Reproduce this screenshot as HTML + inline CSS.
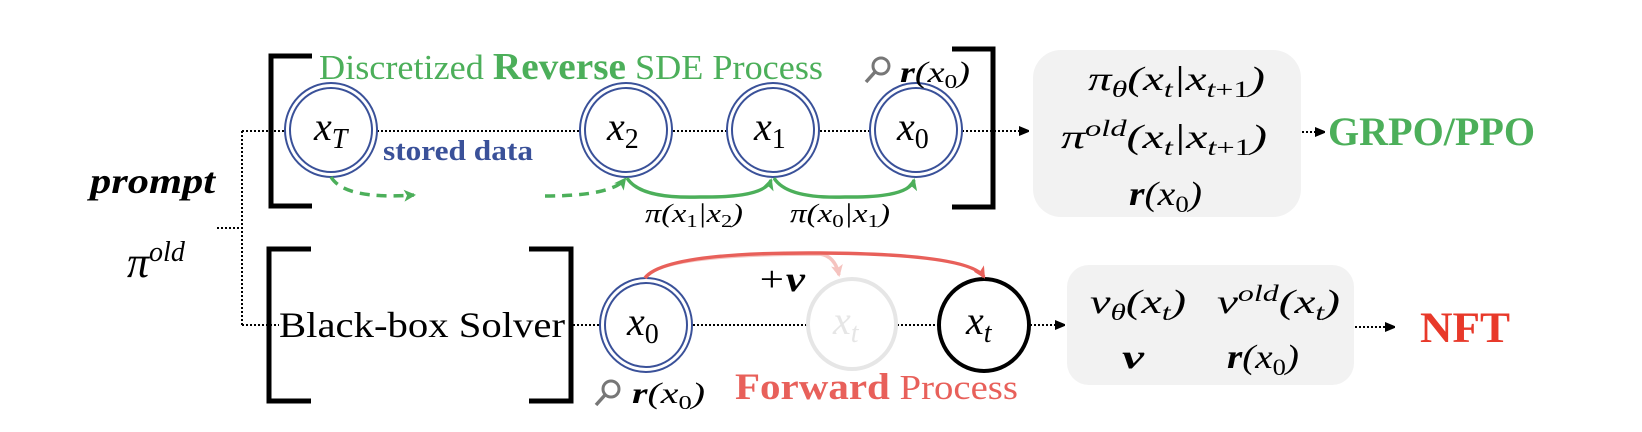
<!DOCTYPE html>
<html><head><meta charset="utf-8"><style>
html,body{margin:0;padding:0;background:#fff;width:1642px;height:432px;overflow:hidden}
svg{display:block}
svg text{font-family:"Liberation Serif","DejaVu Serif",serif}
.m{font-style:italic}
</style></head><body>
<svg width="1642" height="432" viewBox="0 0 1642 432" xmlns="http://www.w3.org/2000/svg" font-family="Liberation Serif, serif">
<defs>
<marker id="ab" markerWidth="10" markerHeight="10" refX="9" refY="5" orient="auto" markerUnits="userSpaceOnUse"><path d="M0,0 L12,5 L0,10 z" fill="#000"/></marker>
<marker id="ag" markerWidth="12" markerHeight="12" refX="10" refY="6" orient="auto" markerUnits="userSpaceOnUse"><path d="M0,0 L12,6 L0,12 L3,6 z" fill="#4caf5a"/></marker>
<marker id="ar" markerWidth="12" markerHeight="12" refX="10" refY="6" orient="auto" markerUnits="userSpaceOnUse"><path d="M0,0 L12,6 L0,12 L3,6 z" fill="#e8605a"/></marker>
<marker id="arf" markerWidth="12" markerHeight="12" refX="10" refY="6" orient="auto" markerUnits="userSpaceOnUse"><path d="M0,0 L12,6 L0,12 L3,6 z" fill="#f5c3bf"/></marker>
</defs>

<text x="90" y="193" font-size="36" font-weight="bold" class="m" textLength="125" lengthAdjust="spacingAndGlyphs">prompt</text>
<text x="127" y="277" font-size="44" class="m">π<tspan font-size="28" dy="-16">old</tspan></text>

<g stroke="#000" stroke-width="2" stroke-dasharray="2,2" fill="none">
<path d="M217,228 H242 M242,131 V325 M242,131 H285 M242,325 H279"/>
<path d="M377,131 H580 M673,131 H727 M820,131 H870"/>
<path d="M573,325 H600 M693,325 H808 M897,325 H938"/>
<path d="M962,131 H1028" marker-end="url(#ab)"/>
<path d="M1302,132 H1324" marker-end="url(#ab)"/>
<path d="M1030,325 H1064" marker-end="url(#ab)"/>
<path d="M1355,327 H1394" marker-end="url(#ab)"/>
</g>

<g stroke="#000" stroke-width="5" fill="none">
<path d="M312,56 H271 V206 H312"/>
<path d="M952,49 H993 V207 H952"/>
<path d="M311,249 H269 V401 H311"/>
<path d="M529,249 H571 V401 H529"/>
</g>

<text x="319" y="79" font-size="35" fill="#4caf5a" textLength="504" lengthAdjust="spacingAndGlyphs">Discretized <tspan font-weight="bold" font-size="38">Reverse</tspan> SDE Process</text>

<g fill="#fff" stroke="#3a5199" stroke-width="2">
<ellipse cx="331" cy="130" rx="46" ry="47"/><ellipse cx="331" cy="130" rx="41" ry="42"/>
<ellipse cx="626" cy="130" rx="46" ry="47"/><ellipse cx="626" cy="130" rx="41" ry="42"/>
<ellipse cx="773" cy="130" rx="46" ry="47"/><ellipse cx="773" cy="130" rx="41" ry="42"/>
<ellipse cx="916" cy="130" rx="46" ry="47"/><ellipse cx="916" cy="130" rx="41" ry="42"/>
<ellipse cx="646" cy="325" rx="46" ry="47"/><ellipse cx="646" cy="325" rx="41" ry="42"/>
</g>
<g font-size="40" class="m">
<text x="314" y="140">x<tspan font-size="28" dy="8">T</tspan></text>
<text x="607" y="140">x<tspan font-size="28" dy="8" font-style="normal">2</tspan></text>
<text x="754" y="140">x<tspan font-size="28" dy="8" font-style="normal">1</tspan></text>
<text x="897" y="140">x<tspan font-size="28" dy="8" font-style="normal">0</tspan></text>
<text x="627" y="335">x<tspan font-size="28" dy="8" font-style="normal">0</tspan></text>
</g>
<text x="383" y="160" font-size="29" font-weight="bold" fill="#3a5199" textLength="150" lengthAdjust="spacingAndGlyphs">stored data</text>

<g fill="none" stroke="#4caf5a" stroke-width="3.5">
<path d="M331,177 Q345,200 414,195" stroke-dasharray="10,7" marker-end="url(#ag)"/>
<path d="M545,196 Q612,196 625,179" stroke-dasharray="10,7" marker-end="url(#ag)"/>
<path d="M627,178 Q640,199 700,197 Q765,198 771,180" marker-end="url(#ag)"/>
<path d="M774,178 Q787,199 845,197 Q909,198 914,180" marker-end="url(#ag)"/>
</g>
<text x="645" y="222" font-size="26" class="m" textLength="98" lengthAdjust="spacingAndGlyphs">π(x<tspan font-size="18" dy="5" font-style="normal">1</tspan><tspan dy="-5">|x</tspan><tspan font-size="18" dy="5" font-style="normal">2</tspan><tspan dy="-5">)</tspan></text>
<text x="790" y="222" font-size="26" class="m" textLength="100" lengthAdjust="spacingAndGlyphs">π(x<tspan font-size="18" dy="5" font-style="normal">0</tspan><tspan dy="-5">|x</tspan><tspan font-size="18" dy="5" font-style="normal">1</tspan><tspan dy="-5">)</tspan></text>

<g stroke="#777" fill="none"><circle cx="881" cy="66" r="8" stroke-width="3"/><line x1="875" y1="72" x2="866" y2="82" stroke-width="3.5"/></g>
<text x="900" y="82" font-size="30" class="m" textLength="70" lengthAdjust="spacingAndGlyphs"><tspan font-weight="bold">r</tspan>(x<tspan font-size="20" dy="6" font-style="normal">0</tspan><tspan dy="-6">)</tspan></text>

<rect x="1033" y="50" width="268" height="167" rx="28" fill="#f2f2f2"/>
<g font-size="34" class="m">
<text x="1088" y="90" textLength="177" lengthAdjust="spacingAndGlyphs">π<tspan font-size="23" dy="7">θ</tspan><tspan dy="-7">(x</tspan><tspan font-size="23" dy="7">t</tspan><tspan dy="-7">|x</tspan><tspan font-size="23" dy="7">t</tspan><tspan font-size="23" font-style="normal">+1</tspan><tspan dy="-7">)</tspan></text>
<text x="1061" y="148" textLength="206" lengthAdjust="spacingAndGlyphs">π<tspan font-size="23" dy="-12">old</tspan><tspan dy="12">(x</tspan><tspan font-size="23" dy="7">t</tspan><tspan dy="-7">|x</tspan><tspan font-size="23" dy="7">t</tspan><tspan font-size="23" font-style="normal">+1</tspan><tspan dy="-7">)</tspan></text>
<text x="1129" y="205" textLength="73" lengthAdjust="spacingAndGlyphs"><tspan font-weight="bold">r</tspan>(x<tspan font-size="23" dy="7" font-style="normal">0</tspan><tspan dy="-7">)</tspan></text>
</g>
<text x="1328" y="145" font-size="40" font-weight="bold" fill="#4caf5a" textLength="207" lengthAdjust="spacingAndGlyphs">GRPO/PPO</text>

<text x="279" y="337" font-size="36" textLength="286" lengthAdjust="spacingAndGlyphs">Black-box Solver</text>
<ellipse cx="852" cy="324" rx="44" ry="45" fill="none" stroke="#e6e6e6" stroke-width="4"/>
<text x="833" y="334" font-size="40" class="m" fill="#e6e6e6">x<tspan font-size="28" dy="8">t</tspan></text>
<ellipse cx="984" cy="325" rx="45" ry="46" fill="#fff" stroke="#000" stroke-width="4"/>
<text x="966" y="334" font-size="40" class="m">x<tspan font-size="28" dy="8">t</tspan></text>
<g fill="none" stroke-width="3.5">
<path d="M645,278 Q660,254 820,254 Q835,256 839,275" stroke="#f5c3bf" marker-end="url(#arf)"/>
<path d="M645,278 Q665,252 820,253 Q970,254 984,277" stroke="#e8605a" marker-end="url(#ar)"/>
</g>
<text x="757" y="291" font-size="36" class="m" textLength="48" lengthAdjust="spacingAndGlyphs">+<tspan font-weight="bold">v</tspan></text>
<g stroke="#777" fill="none"><circle cx="611" cy="389" r="8" stroke-width="3"/><line x1="605" y1="395" x2="596" y2="405" stroke-width="3.5"/></g>
<text x="632" y="403" font-size="30" class="m" textLength="73" lengthAdjust="spacingAndGlyphs"><tspan font-weight="bold">r</tspan>(x<tspan font-size="20" dy="6" font-style="normal">0</tspan><tspan dy="-6">)</tspan></text>
<text x="735" y="399" font-size="35" fill="#e8605a" textLength="283" lengthAdjust="spacingAndGlyphs"><tspan font-weight="bold" font-size="37">Forward</tspan> Process</text>

<rect x="1067" y="265" width="287" height="120" rx="22" fill="#f2f2f2"/>
<g font-size="34" class="m">
<text x="1090" y="313" textLength="96" lengthAdjust="spacingAndGlyphs">v<tspan font-size="23" dy="7">θ</tspan><tspan dy="-7">(x</tspan><tspan font-size="23" dy="7">t</tspan><tspan dy="-7">)</tspan></text>
<text x="1217" y="313" textLength="123" lengthAdjust="spacingAndGlyphs">v<tspan font-size="23" dy="-12">old</tspan><tspan dy="12">(x</tspan><tspan font-size="23" dy="7">t</tspan><tspan dy="-7">)</tspan></text>
<text x="1122" y="368" font-weight="bold" textLength="22" lengthAdjust="spacingAndGlyphs">v</text>
<text x="1227" y="368" textLength="72" lengthAdjust="spacingAndGlyphs"><tspan font-weight="bold">r</tspan>(x<tspan font-size="23" dy="7" font-style="normal">0</tspan><tspan dy="-7">)</tspan></text>
</g>
<text x="1420" y="342" font-size="43" font-weight="bold" fill="#e8392a" textLength="90" lengthAdjust="spacingAndGlyphs">NFT</text>
</svg>
</body></html>
